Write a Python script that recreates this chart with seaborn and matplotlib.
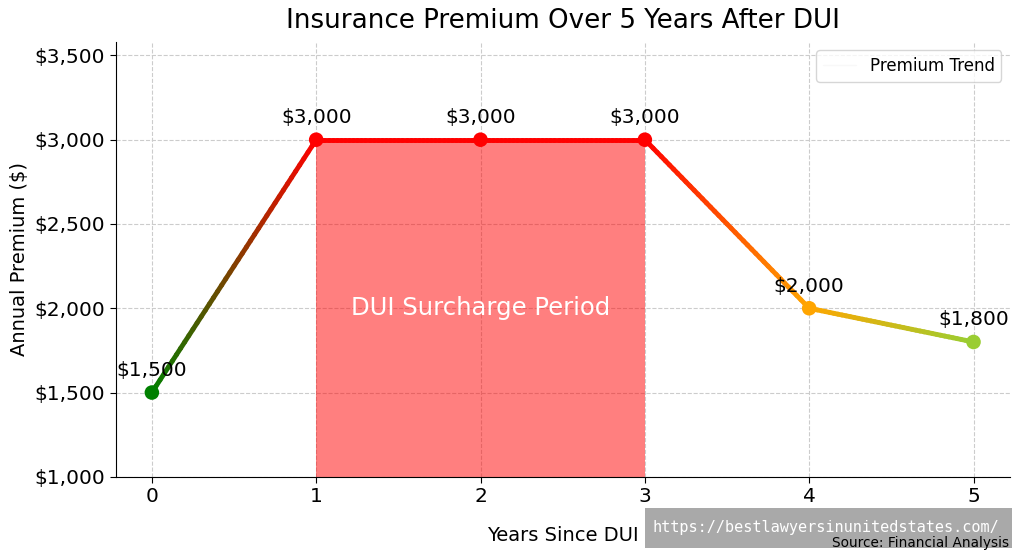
import numpy as np
import matplotlib
matplotlib.use("Agg")
import matplotlib.pyplot as plt
import seaborn as sns
from matplotlib.collections import LineCollection
from matplotlib.colors import to_rgb
from matplotlib.patches import Rectangle

# data
years = [0, 1, 2, 3, 4, 5]
premiums = [1500, 3000, 3000, 3000, 2000, 1800]
point_colors = ["green", "red", "red", "red", "orange", "yellowgreen"]
labels = ["$1,500", "$3,000", "$3,000", "$3,000", "$2,000", "$1,800"]
surcharge_years = [1, 2, 3]
surcharge_premiums = [3000, 3000, 3000]

sns.set_style("white")
plt.rcParams["font.family"] = ["DejaVu Sans"]
plt.rcParams["text.color"] = "black"
plt.rcParams["axes.labelcolor"] = "black"
plt.rcParams["xtick.color"] = "black"
plt.rcParams["ytick.color"] = "black"

fig, ax = plt.subplots(figsize=(10.24, 5.59), dpi=100)

# shaded surcharge period (under the line)
ax.fill_between(surcharge_years, 1000, surcharge_premiums, color="red", alpha=0.5, lw=0, zorder=1)
ax.text(2, 2000, "DUI Surcharge Period", color="white", fontsize=17.5,
        ha="center", va="center", zorder=2)

# gradient line between points
segs, cols = [], []
n = 40
for i in range(len(years) - 1):
    c0 = np.array(to_rgb(point_colors[i]))
    c1 = np.array(to_rgb(point_colors[i + 1]))
    for k in range(n):
        t0, t1 = k / n, (k + 1) / n
        p0 = (years[i] + t0 * (years[i + 1] - years[i]), premiums[i] + t0 * (premiums[i + 1] - premiums[i]))
        p1 = (years[i] + t1 * (years[i + 1] - years[i]), premiums[i] + t1 * (premiums[i + 1] - premiums[i]))
        segs.append([p0, p1])
        cols.append(c0 + (c1 - c0) * (t0 + t1) / 2)
lc = LineCollection(segs, colors=cols, linewidths=3.5, capstyle="round", zorder=3)
ax.add_collection(lc)

# faint trend line just for the legend
sns.lineplot(x=years, y=premiums, ax=ax, color="lightgray", alpha=0.15, lw=1,
             label="Premium Trend", zorder=2)

sns.scatterplot(x=years, y=premiums, hue=years, palette=point_colors, s=110,
                edgecolor="none", legend=False, ax=ax, zorder=4)

for x, y, t in zip(years, premiums, labels):
    ax.annotate(t, (x, y), textcoords="offset points", xytext=(0, 12),
                ha="center", fontsize=14.5)

ax.set_xlim(-0.22, 5.22)
ax.set_ylim(1000, 3580)
ax.set_xticks(years)
ax.set_yticks(range(1000, 3501, 500))
ax.yaxis.set_major_formatter(matplotlib.ticker.FuncFormatter(lambda v, p: f"${v:,.0f}"))
ax.tick_params(labelsize=14.5, length=4, left=True, bottom=True)
ax.grid(True, linestyle="--", color="#cccccc", lw=0.8)
for s in ["top", "right"]:
    ax.spines[s].set_visible(False)
for s in ["left", "bottom"]:
    ax.spines[s].set_color("black")

ax.set_title("Insurance Premium Over 5 Years After DUI", fontsize=18.8, pad=10)
ax.set_xlabel("Years Since DUI", fontsize=14, labelpad=14)
ax.set_ylabel("Annual Premium ($)", fontsize=14)
ax.legend(loc="upper right", fontsize=12)

plt.subplots_adjust(left=0.113, right=0.986, top=0.925, bottom=0.147)

# watermark box and source note
fig.patches.append(Rectangle((0.630, 0.0197), 0.358, 0.0716, transform=fig.transFigure,
                             facecolor="#a9a9a9", edgecolor="none", zorder=5))
fig.text(0.637, 0.057, "https://bestlawyersinunitedstates.com/", fontsize=11,
         family="DejaVu Sans Mono", color="white", va="center", zorder=6)
fig.text(0.985, 0.022, "Source: Financial Analysis", ha="right", fontsize=9.8, zorder=7)

fig.savefig("out.png", dpi=100)
